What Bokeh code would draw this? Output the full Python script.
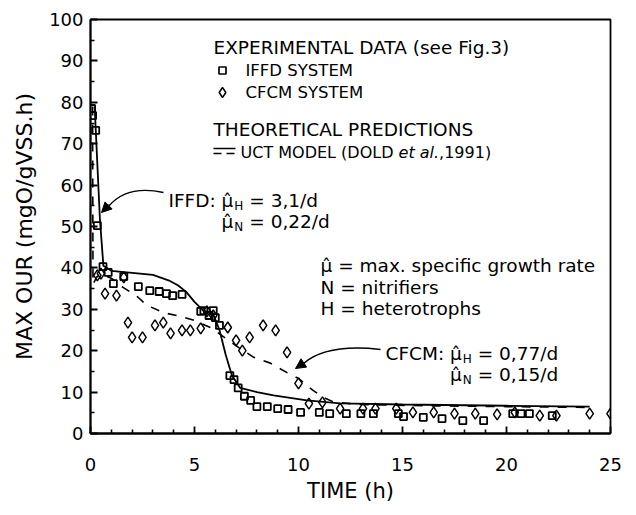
from bokeh.plotting import figure
from bokeh.models import Range1d, Arrow, NormalHead, Label, FixedTicker
from bokeh.embed import file_html
from bokeh.resources import INLINE

# ---- data ----
iffd_t = [0.05, 0.1, 0.25, 0.33, 0.6, 0.85, 1.1, 1.6, 2.3, 2.85, 3.3, 3.65, 3.95, 4.4,
          5.3, 5.45, 5.7, 5.9, 6.0, 6.2, 6.7, 6.9, 7.1, 7.4, 7.7, 8.0, 8.5, 9.0, 9.5,
          10.1, 11.0, 11.5, 12.3, 13.0, 13.6, 14.8, 15.05, 16.0, 16.9, 17.9, 18.9,
          20.3, 20.7, 21.1, 22.2]
iffd_v = [78.5, 76.8, 73.2, 50.2, 40.3, 38.9, 36.2, 37.9, 35.5, 34.5, 34.3, 33.8, 33.3, 33.6,
          29.5, 29.7, 28.5, 29.7, 28.0, 26.1, 14.0, 13.0, 11.0, 9.0, 8.0, 6.5, 6.5, 6.0, 5.8,
          5.1, 5.1, 4.8, 4.8, 4.8, 4.8, 4.8, 4.1, 3.9, 3.6, 3.1, 3.1,
          4.8, 4.8, 4.8, 4.3]
cfcm_t = [0.33, 0.5, 0.7, 1.25, 1.6, 1.8, 2.0, 2.5, 3.1, 3.5, 3.85, 4.4, 4.8, 5.3,
          5.6, 5.9, 6.6, 7.0, 7.3, 7.65, 8.3, 8.9, 9.45, 10.0, 10.5, 11.15, 12.0, 13.1,
          13.7, 14.7, 15.5, 16.5, 17.5, 18.5, 19.55, 20.4, 21.6, 22.4, 24.0, 25.0]
cfcm_v = [38.2, 38.6, 33.8, 33.3, 37.7, 26.8, 23.2, 23.2, 26.1, 26.8, 24.2, 24.9, 24.9, 25.4,
          29.5, 28.5, 25.6, 22.5, 20.0, 23.2, 26.1, 24.9, 19.6, 12.1, 7.2, 7.5, 6.0, 6.0,
          6.0, 6.0, 5.1, 5.1, 4.8, 4.8, 4.6, 5.1, 4.3, 4.3, 4.8, 4.8]
model_iffd_t = [0.2, 0.45, 0.62, 1.0, 2.0, 3.0, 3.75, 4.2, 4.6, 5.0, 5.4, 5.9, 6.2, 6.5,
                6.8, 7.2, 8.0, 8.8, 10.4, 12.0, 15.0, 20.0, 24.0]
model_iffd_v = [79.0, 52.0, 40.5, 39.3, 38.8, 38.3, 37.0, 35.8, 34.2, 31.8, 29.8, 28.8, 25.0,
                19.0, 14.0, 11.0, 10.0, 9.2, 8.0, 7.3, 7.0, 6.7, 6.5]
model_cfcm_t = [0.1, 0.12, 0.3, 0.5, 1.0, 1.5, 2.2, 2.7, 3.5, 4.3, 5.0, 5.8, 6.5, 7.2, 7.85,
                8.65, 9.45, 10.0, 10.7, 11.2, 11.7, 13.0, 16.0, 20.0, 24.0]
model_cfcm_v = [79.0, 36.0, 37.8, 38.5, 37.5, 35.5, 33.3, 31.0, 29.2, 28.3, 27.3, 25.5, 23.0,
                20.5, 18.4, 17.0, 14.7, 13.3, 10.4, 8.7, 7.6, 7.0, 6.7, 6.5, 6.3]
x_ticks = [0, 5, 10, 15, 20, 25]
x_minor = [t for t in range(0, 26) if t % 5]
y_ticks = [0, 10, 20, 30, 40, 50, 60, 70, 80, 90, 100]
y_minor = list(range(5, 100, 10))

FONT = "DejaVu Sans"

# ---- layout ----
W, H = 632, 511
FL, FR, FT, FB = 90, 22, 19, 78
# reference frame position on the page (used to place annotations)
PX0, PX1, PY0, PY1 = 90, 610, 19, 433


def tx(px):
    return (px - PX0) / (PX1 - PX0) * 25.0


def vy(py):
    return (PY1 - py) / (PY1 - PY0) * 100.0


CW = {' ': 318, ',': 318, '.': 318, '/': 337, ':': 337, '=': 838, '(': 390, ')': 390,
      'μ': 636, '\u0302': 0}
for ch in '0123456789':
    CW[ch] = 636
CW.update(dict(zip('ABCDEFGHIJKLMNOPQRSTUVWXYZ',
                   [684, 686, 698, 770, 632, 575, 775, 752, 295, 295, 656, 557, 863, 748,
                    787, 603, 787, 695, 635, 611, 732, 684, 989, 685, 611, 685])))
CW.update(dict(zip('abcdefghijklmnopqrstuvwxyz',
                   [613, 635, 550, 635, 615, 352, 635, 634, 278, 278, 579, 278, 974, 634,
                    612, 635, 635, 411, 521, 392, 634, 592, 818, 592, 592, 525])))


def tw(s, size):
    return sum(CW.get(c, 600) for c in s) / 1000.0 * size


p = figure(width=W, height=H, x_range=Range1d(0, 25), y_range=Range1d(0, 100),
           output_backend="svg", toolbar_location=None,
           min_border_left=FL, min_border_right=FR, min_border_top=FT, min_border_bottom=FB,
           x_axis_label="TIME (h)", y_axis_label="MAX OUR (mgO/gVSS.h)")
p.grid.visible = False
p.outline_line_color = "black"
p.outline_line_width = 1.8
p.background_fill_color = "white"
p.border_fill_color = "white"

for ax in (p.xaxis[0], p.yaxis[0]):
    ax.axis_line_width = 1.8
    ax.major_tick_in = 7
    ax.major_tick_out = 0
    ax.minor_tick_in = 4
    ax.minor_tick_out = 0
    ax.major_tick_line_width = 1.8
    ax.minor_tick_line_width = 1.6
    ax.major_label_text_font = FONT
    ax.major_label_text_font_size = "18px"
    ax.major_label_text_color = "black"
    ax.axis_label_text_font = FONT
    ax.axis_label_text_font_style = "normal"
    ax.axis_label_text_color = "black"

p.xaxis[0].ticker = FixedTicker(ticks=x_ticks, minor_ticks=x_minor)
p.yaxis[0].ticker = FixedTicker(ticks=y_ticks, minor_ticks=y_minor)
p.xaxis[0].axis_label_text_font_size = "21px"
p.yaxis[0].axis_label_text_font_size = "22px"
p.xaxis[0].major_label_standoff = 24
p.xaxis[0].axis_label_standoff = 5
p.yaxis[0].major_label_standoff = 7
p.yaxis[0].axis_label_standoff = 9

# ---- model curves ----
p.line(model_iffd_t, model_iffd_v, line_color="black", line_width=1.8)
p.line(model_cfcm_t, model_cfcm_v, line_color="black", line_width=1.6, line_dash="9 9")

# ---- data points ----
p.scatter(cfcm_t, cfcm_v, marker="diamond", size=11, fill_color=None,
          line_color="black", line_width=1.5)
p.scatter(iffd_t, iffd_v, marker="square", size=7, fill_color=None,
          line_color="black", line_width=1.8)


def label(px, py, text, size, style="normal"):
    p.add_layout(Label(x=tx(px), y=vy(py), text=text, text_font=FONT,
                       text_font_size=f"{size}px", text_font_style=style,
                       text_baseline="middle", text_align="left", text_color="black"))


MU = "μ\u0302"

# legend block
HS, LS, US = 18.5, 16.5, 16
label(213, 47, "EXPERIMENTAL DATA (see Fig.3)", HS)
p.scatter([tx(222)], [vy(70)], marker="square", size=7, fill_color=None, line_color="black", line_width=1.7)
label(245, 70, "IFFD SYSTEM", LS)
p.scatter([tx(222)], [vy(92)], marker="diamond", size=10, fill_color=None, line_color="black", line_width=1.5)
label(245, 92, "CFCM SYSTEM", LS)
label(213, 129, "THEORETICAL PREDICTIONS", HS)
p.line([tx(213), tx(235)], [vy(148), vy(148)], line_color="black", line_width=1.6)
p.line([tx(213), tx(235)], [vy(153), vy(153)], line_color="black", line_width=1.6, line_dash="8 5")
x = 240
label(x, 152, "UCT MODEL (DOLD", US)
x += tw("UCT MODEL (DOLD ", US)
label(x, 152, "et al.", US, "italic")
x += tw("et al.", US)
label(x, 152, ",1991)", US)


def mu_line(x0, py, prefix, sub, rest, S=18.5, SS=12):
    if prefix:
        label(x0, py, prefix, S)
    xm = x0 + tw(prefix + " ", S) if prefix else x0
    label(xm, py, MU, S)
    xs = xm + tw("μ", S) + 1
    label(xs, py + 5, sub, SS)
    xr = xs + tw("H", SS) + tw(" ", S)
    label(xr, py, rest, S)


mu_line(168, 200, "IFFD:", "H", "= 3,1/d")
mu_line(168 + tw("IFFD: ", 18.5), 221, "", "N", "= 0,22/d")

S = 18.5
label(320, 265, MU, S)
label(320 + tw("μ ", S), 265, "= max. specific growth rate", S)
label(320, 287, "N = nitrifiers", S)
label(320, 308, "H = heterotrophs", S)

mu_line(385, 353, "CFCM:", "H", "= 0,77/d")
mu_line(385 + tw("CFCM: ", 18.5), 374, "", "N", "= 0,15/d")

# arrows
p.bezier(x0=[tx(163)], y0=[vy(192)], x1=[tx(108)], y1=[vy(206)],
         cx0=[tx(135)], cy0=[vy(186)], cx1=[tx(118)], cy1=[vy(194)],
         line_color="black", line_width=1.4)
p.add_layout(Arrow(end=NormalHead(size=10, fill_color="black", line_color="black"),
                   x_start=tx(109), y_start=vy(204), x_end=tx(101), y_end=vy(212),
                   line_width=1.3, line_color="black"))
p.bezier(x0=[tx(380)], y0=[vy(349)], x1=[tx(303)], y1=[vy(363)],
         cx0=[tx(345)], cy0=[vy(345)], cx1=[tx(318)], cy1=[vy(350)],
         line_color="black", line_width=1.4)
p.add_layout(Arrow(end=NormalHead(size=10, fill_color="black", line_color="black"),
                   x_start=tx(304), y_start=vy(362), x_end=tx(295), y_end=vy(368),
                   line_width=1.3, line_color="black"))

open("out.html", "w").write(file_html(p, INLINE))
